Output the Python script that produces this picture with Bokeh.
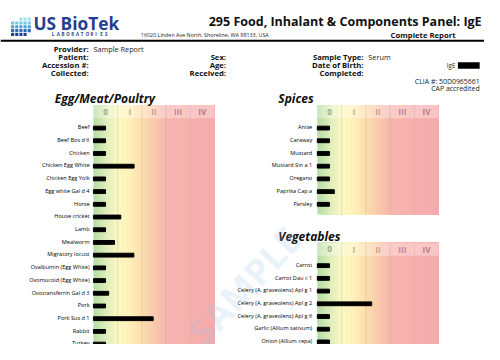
import numpy as np
from bokeh.plotting import figure
from bokeh.models import Range1d
from bokeh.core.properties import value
from bokeh.embed import file_html
from bokeh.resources import INLINE

# ---------------- data ----------------
egg_items = ["Beef", "Beef Bos d 6", "Chicken", "Chicken Egg White", "Chicken Egg Yolk",
             "Egg white Gal d 4", "Horse", "House cricket", "Lamb", "Mealworm",
             "Migratory locust", "Ovalbumin (Egg White)", "Ovomucoid (Egg White)",
             "Ovotransferrin Gal d 3", "Pork", "Pork Sus d 1", "Rabbit", "Turkey"]
egg_scores = [0.5, 0.5, 0.5, 1.68, 0.5, 0.5, 0.5, 1.13, 0.5, 0.87,
              1.67, 0.5, 0.5, 0.63, 0.5, 2.47, 0.5, 0.5]
spice_items = ["Anise", "Caraway", "Mustard", "Mustard Sin a 1", "Oregano",
               "Paprika Cap a", "Parsley"]
spice_scores = [0.5, 0.5, 0.5, 0.5, 0.5, 0.7, 0.5]
veg_items = ["Carrot", "Carrot Dau c 1", "Celery (A. graveolens) Apl g 1",
             "Celery (A. graveolens) Apl g 2", "Celery (A. graveolens) Apl g 6",
             "Garlic (Allium sativum)", "Onion (Allium cepa)"]
veg_scores = [0.5, 0.5, 0.5, 2.24, 0.5, 0.5, 0.5]
class_labels = ["0", "I", "II", "III", "IV"]

# ---------------- layout ----------------
W_REF, H_REF = 500, 360
PW, PH = 484, 344
FS = 0.962
def fs(x):
    return f"{x * FS:.2f}px"

OS = value("Open Sans")

p = figure(width=PW, height=PH, x_range=Range1d(0, W_REF), y_range=Range1d(H_REF, 0),
           x_axis_type=None, y_axis_type=None, toolbar_location=None,
           output_backend="svg", min_border=0, outline_line_color=None,
           background_fill_color="white", border_fill_color="white")
p.grid.visible = False

RH = 13.3
panels = [
    dict(key="egg", items=egg_items, scores=egg_scores, title="Egg/Meat/Poultry",
         L=96, R=221, Y0=132.7, lab_x=92, title_x=56, title_y=102.7),
    dict(key="spice", items=spice_items, scores=spice_scores, title="Spices",
         L=327.3, R=452.7, Y0=132.7, lab_x=322, title_x=287, title_y=102.7),
    dict(key="veg", items=veg_items, scores=veg_scores, title="Vegetables",
         L=327.3, R=452.7, Y0=276.7, lab_x=322, title_x=287, title_y=246.7),
]

xr, yr = {}, {}
for d in panels:
    span = 5 * W_REF / (d["R"] - d["L"])
    s = -d["L"] / W_REF * span
    xr[d["key"]] = Range1d(s, s + span)
    yr[d["key"]] = Range1d((H_REF - d["Y0"]) / RH, -d["Y0"] / RH)
p.extra_x_ranges = xr
p.extra_y_ranges = yr

stops = [(0.0, (180, 220, 164)), (0.5, (220, 237, 186)), (1.0, (250, 248, 194)),
         (1.5, (254, 240, 184)), (2.0, (252, 222, 174)), (2.6, (249, 198, 172)),
         (3.0, (247, 182, 176)), (5.0, (245, 170, 172))]
sx = np.array([t for t, _ in stops])
step = 0.05
xs = np.arange(0, 5, step)
xc = xs + step / 2
cols = []
for v in xc:
    rgb = [int(round(np.interp(v, sx, [c[k] for _, c in stops]))) for k in range(3)]
    cols.append("#%02x%02x%02x" % tuple(rgb))

hdr_colors = ["#9aa889", "#bdb07c", "#cf9c88", "#c98686", "#c07c7c"]
TOP, HB = -1.75, -0.72

for d in panels:
    k = d["key"]
    n = len(d["items"])
    bot = n - 1 + 0.85
    idx = np.arange(n)
    p.quad(left=xs, right=5, top=TOP, bottom=bot, fill_color=cols,
           line_color=None, x_range_name=k, y_range_name=k)
    p.quad(left=[0], right=[5], top=[TOP], bottom=[HB], fill_color="white",
           fill_alpha=0.3, line_color=None, x_range_name=k, y_range_name=k)
    p.segment(x0=[1, 2, 3, 4], x1=[1, 2, 3, 4], y0=TOP, y1=bot, line_color="#b08878",
              line_alpha=0.22, line_width=1, x_range_name=k, y_range_name=k)
    p.text(x=np.arange(5) + 0.5, y=(TOP + HB) / 2, text=class_labels, text_color=hdr_colors,
           text_align="center", text_baseline="middle", text_font=OS,
           text_font_size=fs(8.5), text_font_style="bold", x_range_name=k, y_range_name=k)
    p.hbar(y=idx + 0.06, left=0, right=d["scores"], height=0.3, color="black",
           x_range_name=k, y_range_name=k)
    p.text(x=d["lab_x"], y=idx, text=d["items"], text_align="right",
           text_baseline="middle", text_font=OS, text_font_size=fs(5.8),
           text_color="#000000", y_range_name=k)
    p.text(x=[d["title_x"]], y=[d["title_y"]], text=[d["title"]], text_align="left",
           text_baseline="middle", text_font=OS, text_font_size=fs(12.5),
           text_font_style="bold italic", text_color="#111111")

# ---------------- header ----------------
gx, gy = np.meshgrid(np.arange(5), np.arange(5))
gx, gy = gx.ravel(), gy.ravel()
keep = ~(((gy == 0) & (gx < 2)) | ((gy == 4) & (gx == 4)))
dot_cols = ["#a6e0ef", "#74c7e2", "#4a9fd2", "#2f69b0", "#1f3f8a"]
cx = 12.5 + gx[keep] * 4.3
cy = 19.5 + gy[keep] * 4.0
p.quad(left=cx - 1.6, right=cx + 1.6, top=cy - 1.6, bottom=cy + 1.6,
       fill_color=[dot_cols[g] for g in gy[keep]], line_color=None)
p.text(x=[34], y=[23.5], text=["US BioTek"], text_font=OS, text_font_size=fs(18),
       text_font_style="bold", text_color="#233f8f", text_baseline="middle")
lab = "LABORATORIES"
p.text(x=53 + np.arange(len(lab)) * 5.0, y=35.2, text=list(lab), text_font=OS,
       text_font_size=fs(4.6), text_font_style="bold", text_color="#233f8f",
       text_baseline="middle", text_align="left")

p.text(x=[497], y=[21.7], text=["295 Food, Inhalant & Components Panel: IgE"],
       text_font=OS, text_font_size=fs(13), text_font_style="bold",
       text_color="#111111", text_align="right", text_baseline="middle")
p.text(x=[145], y=[36.2], text=["16020 Linden Ave North, Shoreline, WA 98133, USA"],
       text_font=OS, text_font_size=fs(5.6), text_color="#222222",
       text_baseline="middle")
p.text(x=[403], y=[36.2], text=["Complete Report"], text_font=OS,
       text_font_size=fs(8), text_font_style="bold", text_color="#111111",
       text_baseline="middle")
p.segment(x0=[0], x1=[500], y0=[42], y1=[42], line_color="black", line_width=2)

lab_style = dict(text_font=OS, text_font_size=fs(8), text_font_style="bold",
                 text_color="#111111", text_baseline="middle", text_align="right")
val_style = dict(text_font=OS, text_font_size=fs(7.6), text_color="#222222",
                 text_baseline="middle", text_align="left")
p.text(x=91, y=[50.5, 59, 67.3, 75.7],
       text=["Provider:", "Patient:", "Accession #:", "Collected:"], **lab_style)
p.text(x=[96], y=[50.5], text=["Sample Report"], **val_style)
p.text(x=233, y=[59, 67.3, 75.7], text=["Sex:", "Age:", "Received:"], **lab_style)
p.text(x=375, y=[59, 67.3, 75.7], text=["Sample Type:", "Date of Birth:", "Completed:"],
       **lab_style)
p.text(x=[380], y=[59], text=["Serum"], **val_style)
p.text(x=[470], y=[68], text=["IgE"], text_font=OS, text_font_size=fs(6.5),
       text_color="#222222", text_baseline="middle", text_align="right")
p.quad(left=[472.5], right=[495], top=[64.5], bottom=[71.3], fill_color="black",
       line_color=None)
p.text(x=495, y=[84.3, 92.5], text=["CLIA #: 50D0965661", "CAP accredited"],
       text_font=OS, text_font_size=fs(7.2), text_color="#222222",
       text_baseline="middle", text_align="right")

# watermark
p.text(x=[252], y=[298], text=["SAMPLE"], angle=0.82, text_font=OS,
       text_font_size=fs(38), text_font_style="bold", text_color="#9cc2e6",
       text_alpha=0.22, text_align="center", text_baseline="middle")

open("out.html", "w").write(file_html(p, INLINE))
